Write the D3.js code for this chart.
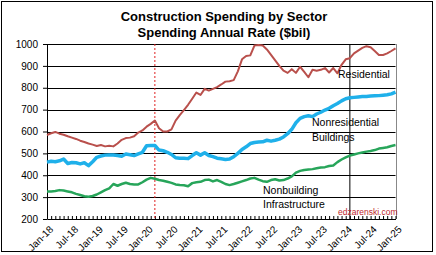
<!DOCTYPE html>
<html><head><meta charset="utf-8">
<script src="https://cdn.jsdelivr.net/npm/d3@7"></script>
<style>body{margin:0;background:#fff}svg{display:block}</style>
</head><body>
<svg id="c" width="436" height="255"></svg>
<script>
// Monthly, Jan-18 .. Jan-25 (85 months)
const months = d3.range(85).map(i => new Date(2018, i, 1));
const residential = [584,592,598,590,585,578,572,566,558,552,545,540,
  534,538,532,535,532,545,562,570,572,578,595,605,
  622,635,650,615,600,600,610,650,675,698,722,750,
  778,767,795,787,795,803,815,828,830,835,875,930,
  945,948,993,995,993,975,950,925,900,878,868,885,
  868,896,873,848,882,878,882,890,870,890,866,905,
  930,935,957,970,982,990,985,968,950,950,957,968,980];
const nonresidential = [460,464,462,466,474,454,458,457,452,457,444,462,
  482,488,492,493,493,490,487,497,494,490,498,505,
  535,536,536,515,512,505,495,480,478,478,476,490,
  503,492,503,490,485,478,475,472,474,485,500,518,
  530,545,550,552,553,560,556,560,565,575,590,610,
  640,660,668,672,668,680,688,698,706,718,728,740,
  750,754,756,758,760,760,762,763,764,766,768,772,780];
const nonbuilding = [326,326,328,332,330,326,322,315,310,304,302,305,
  312,322,332,340,360,352,360,366,360,358,358,368,
  380,388,384,378,375,370,365,358,355,354,350,364,
  368,370,378,380,372,378,370,360,355,360,366,372,
  378,385,388,380,373,370,378,382,376,378,385,395,
  412,420,424,426,428,432,435,437,442,445,460,472,
  482,490,495,500,504,508,511,515,522,525,528,534,538];
const yTicks = [200,300,400,500,600,700,800,900,1000];
const xLabels = ["Jan-18","Jul-18","Jan-19","Jul-19","Jan-20","Jul-20","Jan-21","Jul-21",
  "Jan-22","Jul-22","Jan-23","Jul-23","Jan-24","Jul-24","Jan-25"];
const covidMonth = 26;   // Mar-20
const markMonth = 73;    // Feb-24

const svg = d3.select("#c");
const x = d3.scaleLinear().domain([0,84]).range([47,395.5]);
const y = d3.scaleLinear().domain([200,1000]).range([219,44]);
const FONT = "Liberation Sans, Arial, sans-serif";

// outer border
svg.append("rect").attr("x",1.5).attr("y",1.5).attr("width",431).attr("height",250)
  .attr("fill","#fff").attr("stroke","#000").attr("stroke-width",1);

// title
const title = svg.append("text").attr("text-anchor","middle")
  .attr("font-family",FONT).attr("font-weight","bold")
  .attr("font-size",13).attr("fill","#000");
title.append("tspan").attr("x",224).attr("y",21).text("Construction Spending by Sector");
title.append("tspan").attr("x",224).attr("y",37).text("Spending Annual Rate ($bil)");

// gridlines
svg.append("g").selectAll("line").data(yTicks.filter(d=>d>200)).join("line")
  .attr("x1",x(0)).attr("x2",x(84)).attr("y1",d=>Math.round(y(d))+0.5).attr("y2",d=>Math.round(y(d))+0.5)
  .attr("stroke","#000").attr("stroke-width",1);
// right plot border
svg.append("line").attr("x1",Math.round(x(84))+0.5).attr("x2",Math.round(x(84))+0.5)
  .attr("y1",y(1000)).attr("y2",y(200)).attr("stroke","#888");

// y axis
const yAxis = svg.append("g").attr("transform",`translate(${x(0)},0)`)
  .call(d3.axisLeft(y).tickValues(yTicks).tickFormat(d3.format("d")).tickSize(4).tickSizeOuter(0));
yAxis.select(".domain").attr("stroke","#000");
yAxis.selectAll("line").attr("stroke","#000");
yAxis.selectAll("text").attr("font-family",FONT)
  .attr("font-size",10).attr("fill","#000").attr("dx",-2);

// x axis
const xAxis = svg.append("g").attr("transform",`translate(0,${y(200)})`)
  .call(d3.axisBottom(x).tickValues(d3.range(0,85)).tickSize(-3).tickSizeOuter(0).tickFormat(""));
xAxis.select(".domain").attr("stroke","#000");
xAxis.selectAll("line").attr("stroke","#000");
svg.append("g").selectAll("text").data(xLabels).join("text")
  .attr("transform",(d,i)=>`translate(${x(i*6)+2},${y(200)+6}) rotate(-45)`)
  .attr("text-anchor","end").attr("dy","0.7em")
  .attr("font-family",FONT).attr("font-size",10).attr("fill","#000")
  .text(d=>d);

// reference lines
svg.append("line").attr("x1",x(covidMonth)).attr("x2",x(covidMonth))
  .attr("y1",y(1000)).attr("y2",y(200)).attr("stroke","#e02020").attr("stroke-dasharray","2,2");
svg.append("line").attr("x1",x(markMonth)).attr("x2",x(markMonth))
  .attr("y1",y(1000)).attr("y2",y(200)).attr("stroke","#000");

// series
const line = d3.line().x((d,i)=>x(i)).y(d=>y(d));
const series = [
  {v:nonbuilding, c:"#27a55a", w:2.5},
  {v:nonresidential, c:"#1fb0ea", w:3.5},
  {v:residential, c:"#b9504c", w:2}
];
svg.append("g").selectAll("path").data(series).join("path")
  .attr("d",d=>line(d.v)).attr("fill","none").attr("stroke",d=>d.c)
  .attr("stroke-width",d=>d.w).attr("stroke-linejoin","round");

// annotations
const ann = [
  ["Residential",338,78],["Nonresidential",312,126],["Buildings",312,141],
  ["Nonbuilding",263,194],["Infrastructure",263,208]
];
svg.append("g").selectAll("text").data(ann).join("text")
  .attr("x",d=>d[1]).attr("y",d=>d[2])
  .attr("font-family",FONT).attr("font-size",10.5).attr("fill","#000")
  .text(d=>d[0]);
svg.append("text").attr("x",338).attr("y",215)
  .attr("font-family",FONT).attr("font-size",8.5).attr("fill","#c0282d")
  .text("edzarenski.com");
</script>
</body></html>
